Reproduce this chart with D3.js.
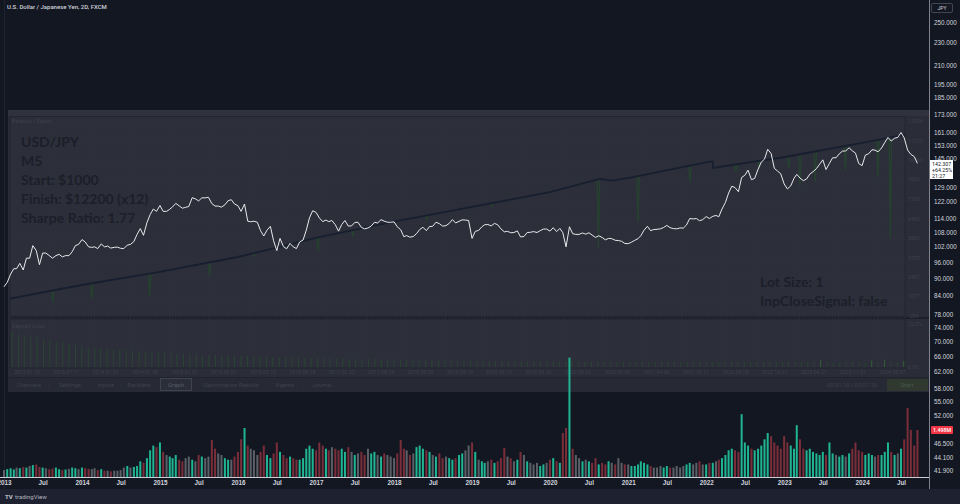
<!DOCTYPE html>
<html>
<head>
<meta charset="utf-8">
<script src="https://cdn.jsdelivr.net/npm/d3@7"></script>
<style>
  html, body { margin: 0; padding: 0; background: #131722; overflow: hidden; }
  svg { display: block; font-family: Roboto, "Noto Sans", sans-serif; }
</style>
</head>
<body>
<svg></svg>
<script>
// USD/JPY, value at the 1st and 16th of each month
const price2013 = [87.0, 88.5, 91.5, 93.5, 93.5, 95.5, 93.0, 97.5, 97.5, 102.5, 100.5, 95.0, 99.5, 99.5, 98.5, 97.5, 98.5, 99.0, 98.0, 98.5, 98.5, 100.0, 102.5, 103.0];
const price2014 = [105.0, 104.0, 102.0, 101.8, 102.0, 101.3, 103.2, 102.0, 102.3, 101.5, 101.8, 101.9, 101.4, 101.3, 102.7, 103.0, 104.2, 107.2, 109.7, 106.8, 112.3, 116.0, 118.6, 117.5];
const price2015 = [120.3, 117.5, 117.5, 118.5, 119.6, 121.3, 120.1, 119.0, 119.4, 119.8, 124.1, 123.5, 122.5, 124.0, 124.0, 124.3, 121.2, 120.0, 120.0, 119.5, 120.6, 122.6, 123.1, 121.0];
const price2016 = [120.2, 117.5, 121.0, 113.0, 112.7, 113.0, 112.5, 108.8, 106.5, 109.0, 110.7, 104.5, 100.5, 105.5, 102.1, 101.2, 103.4, 102.0, 101.3, 104.0, 104.8, 109.0, 114.5, 117.8];
const price2017 = [117.0, 114.5, 112.8, 113.5, 112.8, 113.3, 111.4, 108.6, 111.5, 113.3, 110.8, 110.9, 112.4, 112.5, 110.2, 109.6, 110.0, 110.8, 112.5, 112.2, 113.7, 113.0, 112.5, 112.5];
const price2018 = [112.7, 110.5, 109.2, 106.2, 106.7, 106.0, 106.3, 107.5, 109.3, 110.3, 108.8, 110.6, 110.7, 112.5, 111.9, 110.8, 111.0, 112.0, 113.7, 112.2, 112.9, 113.6, 113.5, 113.3];
const price2019 = [105.5, 108.5, 108.9, 110.5, 111.4, 111.5, 110.9, 112.0, 111.4, 109.6, 108.3, 108.5, 107.9, 108.0, 108.7, 106.1, 106.3, 108.0, 108.1, 108.4, 108.0, 108.8, 109.5, 109.5];
const price2020 = [108.6, 110.1, 108.4, 109.8, 107.9, 102.0, 110.5, 107.5, 107.2, 107.2, 107.8, 107.3, 107.9, 106.9, 105.9, 106.6, 105.9, 104.9, 105.5, 105.4, 104.7, 104.6, 104.3, 103.4];
const price2021 = [103.3, 103.9, 104.7, 105.4, 106.6, 109.0, 110.7, 108.8, 109.3, 109.4, 109.6, 110.2, 111.1, 110.1, 109.7, 109.6, 110.0, 109.9, 111.3, 114.2, 114.0, 114.2, 113.2, 113.7];
const price2022 = [115.1, 114.2, 115.2, 115.6, 115.0, 118.6, 121.7, 126.4, 129.9, 129.2, 127.1, 134.5, 135.7, 138.5, 133.3, 134.0, 139.0, 143.0, 144.7, 150.5, 148.0, 139.5, 138.0, 136.5];
const price2023 = [131.1, 128.5, 130.1, 134.0, 136.2, 134.2, 132.8, 133.7, 136.3, 137.6, 139.3, 141.8, 144.3, 138.8, 142.3, 145.5, 145.5, 147.8, 149.4, 149.5, 151.4, 149.6, 148.2, 142.2];
const price2024 = [141.0, 147.0, 147.9, 150.2, 150.0, 149.0, 151.3, 154.6, 157.8, 155.5, 157.3, 157.8, 160.9, 157.5, 150.0, 147.5, 146.2, 142.3];

// volume, millions, same dates
const vol2013 = [0.22, 0.25, 0.28, 0.24, 0.3, 0.28, 0.32, 0.3, 0.35, 0.38, 0.4, 0.32, 0.3, 0.28, 0.25, 0.27, 0.3, 0.25, 0.22, 0.24, 0.26, 0.3, 0.28, 0.25];
const vol2014 = [0.3, 0.28, 0.26, 0.25, 0.28, 0.22, 0.25, 0.2, 0.2, 0.18, 0.2, 0.2, 0.22, 0.3, 0.35, 0.3, 0.32, 0.35, 0.5, 0.45, 0.6, 0.85, 1.0, 0.95];
const vol2015 = [1.1, 0.8, 0.7, 0.65, 0.6, 0.7, 0.55, 0.5, 0.6, 0.65, 0.55, 0.5, 0.7, 0.65, 0.6, 0.65, 1.18, 0.9, 0.75, 0.7, 0.6, 0.55, 0.55, 0.65];
const vol2016 = [0.8, 1.2, 1.56, 1.0, 0.9, 0.85, 0.7, 0.8, 1.0, 0.7, 0.6, 0.75, 1.1, 0.8, 0.7, 0.6, 0.65, 0.6, 0.55, 0.55, 0.6, 0.9, 1.0, 0.9];
const vol2017 = [0.85, 1.1, 1.0, 0.9, 0.85, 0.95, 0.9, 0.85, 0.9, 0.8, 0.95, 0.8, 0.7, 0.75, 0.8, 0.7, 0.9, 0.75, 0.8, 0.7, 0.65, 0.75, 0.7, 0.65];
const vol2018 = [0.6, 0.75, 1.18, 0.9, 0.85, 0.7, 0.75, 0.95, 1.0, 0.9, 0.85, 0.8, 0.7, 0.65, 0.75, 0.6, 0.65, 0.6, 0.55, 0.6, 0.7, 0.75, 0.85, 1.0];
const vol2019 = [1.1, 0.8, 0.55, 0.5, 0.45, 0.5, 0.55, 0.45, 0.5, 0.6, 0.92, 0.65, 0.6, 0.5, 0.55, 0.8, 0.7, 0.5, 0.45, 0.4, 0.45, 0.35, 0.4, 0.45];
const vol2020 = [0.55, 0.6, 0.5, 0.45, 1.4, 1.56, 3.8, 0.9, 0.7, 0.6, 0.5, 0.55, 0.5, 0.45, 0.6, 0.4, 0.45, 0.4, 0.5, 0.45, 0.4, 0.6, 0.45, 0.4];
const vol2021 = [0.4, 0.35, 0.35, 0.4, 0.5, 0.45, 0.4, 0.35, 0.3, 0.3, 0.35, 0.3, 0.35, 0.3, 0.3, 0.35, 0.3, 0.35, 0.4, 0.45, 0.4, 0.45, 0.5, 0.4];
const vol2022 = [0.4, 0.45, 0.45, 0.5, 0.55, 0.6, 0.7, 0.85, 0.9, 0.85, 0.8, 2.0, 1.1, 1.0, 0.9, 0.85, 0.9, 1.0, 1.2, 1.4, 1.3, 1.1, 1.0, 0.9];
const vol2023 = [1.3, 1.1, 1.0, 0.9, 1.65, 1.2, 0.9, 0.85, 0.9, 0.8, 0.75, 0.7, 0.8, 0.7, 1.1, 0.75, 0.7, 0.65, 0.7, 0.65, 0.75, 0.9, 1.1, 0.85];
const vol2024 = [0.8, 0.7, 0.75, 0.7, 0.65, 0.7, 0.7, 0.8, 1.1, 0.8, 0.7, 0.75, 0.9, 1.2, 2.2, 1.5, 1.0, 1.498];

// strategy tester: balance points and equity dips
const balanceDates = ['2013-01-01', '2013-12-10', '2014-12-17', '2015-12-25', '2016-07-13', '2017-01-01', '2018-01-04', '2019-01-18', '2020-01-30', '2020-09-19', '2020-11-17', '2021-02-06', '2022-02-20', '2022-03-12', '2022-03-14', '2023-02-21', '2024-02-24', '2024-09-16'];
const balanceValues = [1000, 1930, 2818, 3841, 4524, 5138, 6230, 7254, 8278, 9165, 9050, 9233, 10326, 10360, 9916, 10666, 11622, 12200];
const dipDates = ['2013-07-24', '2014-01-27', '2014-10-30', '2015-08-13', '2016-03-10', '2017-01-12', '2017-06-27', '2018-06-15', '2019-04-20', '2020-09-12', '2021-03-21', '2021-11-24', '2022-07-01', '2022-10-20', '2023-03-10', '2023-05-03', '2023-07-15', '2023-12-06', '2024-05-10', '2024-07-08'];
const dipValues = [770, 1040, 1180, 2540, 3900, 4320, 5270, 6400, 7300, 4520, 6230, 8890, 9700, 9850, 9900, 8690, 8960, 9780, 9300, 5140];

// deposit load %, monthly
const load2013 = [17.2, 15.8, 15.3, 14.8, 14.3, 13.5, 13.0, 12.4, 11.8, 11.0, 10.5, 10.0];
const load2014 = [9.6, 9.3, 9.0, 8.8, 8.5, 8.3, 8.0, 7.8, 7.6, 7.4, 7.2, 7.0];
const load2015 = [6.8, 6.6, 6.5, 6.4, 6.3, 6.2, 6.0, 5.9, 5.8, 5.7, 5.6, 5.5];
const load2016 = [5.4, 5.3, 5.2, 5.1, 5.0, 4.9, 4.8, 4.7, 4.6, 4.5, 4.4, 4.3];
const load2017 = [4.3, 4.2, 4.2, 4.1, 4.1, 4.0, 4.0, 3.9, 3.9, 3.8, 3.8, 3.7];
const load2018 = [3.7, 3.6, 3.6, 3.5, 3.5, 3.4, 3.4, 3.3, 3.3, 3.2, 3.2, 3.1];
const load2019 = [3.1, 3.0, 3.0, 3.0, 2.9, 2.9, 2.9, 2.8, 2.8, 2.8, 2.7, 2.7];
const load2020 = [2.7, 2.6, 2.6, 2.6, 2.6, 2.5, 2.5, 2.5, 2.5, 2.5, 2.4, 2.4];
const load2021 = [2.4, 2.4, 2.4, 2.4, 2.3, 2.3, 2.3, 2.3, 2.3, 2.3, 2.3, 2.3];
const load2022 = [2.3, 2.2, 2.2, 2.2, 2.2, 2.2, 2.2, 2.2, 2.2, 2.2, 2.2, 2.2];
const load2023 = [2.2, 2.2, 2.1, 2.1, 2.1, 2.1, 2.1, 3.3, 2.1, 2.1, 2.1, 2.1];
const load2024 = [2.1, 2.1, 2.1, 3.2, 2.0, 3.5, 2.0, 2.0, 3.0];

// tick labels
const timeTicks = ['2013-01-01', '2013-07-01', '2014-01-01', '2014-07-01', '2015-01-01', '2015-07-01', '2016-01-01', '2016-07-01', '2017-01-01', '2017-07-01', '2018-01-01', '2018-07-01', '2019-01-01', '2019-07-01', '2020-01-01', '2020-07-01', '2021-01-01', '2021-07-01', '2022-01-01', '2022-07-01', '2023-01-01', '2023-07-01', '2024-01-01', '2024-07-01'];
const priceTicks = [250, 230, 210, 195, 185, 173, 161, 153, 145, 129, 122, 114, 108, 102, 96, 90, 84, 78, 74, 70, 66, 62, 58, 55, 52, 46.5, 44.1, 41.9];
const balanceTicks = [-254, 1077, 2407, 3738, 5069, 6400, 7730, 9062, 10393, 11723, 13054];
const testerDates = ['2013.01.10', '2013.07.17', '2014.01.21', '2014.07.28', '2015.02.02', '2015.08.07', '2016.02.12', '2016.08.18', '2017.02.22', '2017.08.29', '2018.03.05', '2018.09.10', '2019.03.15', '2019.09.20', '2020.03.26', '2020.09.30', '2021.04.06', '2021.10.11', '2022.04.18', '2022.10.21', '2023.04.27', '2023.11.01', '2024.05.07'];
const tabs = ['Overview', 'Settings', 'Inputs', 'Backtest', 'Graph', 'Optimization Results', 'Agents', 'Journal'];
const infoLeft = ['USD/JPY', 'M5', 'Start: $1000', 'Finish: $12200 (x12)', 'Sharpe Ratio: 1.77'];
const infoRight = ['Lot Size: 1', 'InpCloseSignal: false'];

const W = 960, H = 504;
const svg = d3.select('svg').attr('width', W).attr('height', H);
const parse = d3.timeParse('%Y-%m-%d');
const parseDot = d3.timeParse('%Y.%m.%d');

const prices = [].concat(price2013, price2014, price2015, price2016, price2017, price2018, price2019, price2020, price2021, price2022, price2023, price2024);
const volumes = [].concat(vol2013, vol2014, vol2015, vol2016, vol2017, vol2018, vol2019, vol2020, vol2021, vol2022, vol2023, vol2024);
const loads = [].concat(load2013, load2014, load2015, load2016, load2017, load2018, load2019, load2020, load2021, load2022, load2023, load2024);
const bars = prices.map((p, i) => ({
  date: new Date(2013, Math.floor(i / 2), i % 2 ? 16 : 1),
  price: p,
  vol: volumes[i],
  prev: i ? prices[i - 1] : p
}));

// scales
const x = d3.scaleTime().domain([new Date(2013, 0, 1), new Date(2024, 6, 1)]).range([4, 901]);
const y = d3.scaleLog().domain([41.9, 250]).range([470, 22]);
const vy = d3.scaleLinear().domain([0, 3.82]).range([477, 357]);
const mx = d3.scaleTime().domain([new Date(2013, 0, 1), new Date(2024, 8, 16)]).range([10, 905]);
const by = d3.scaleLinear().domain([-254, 13054]).range([317, 122]);
const ly = d3.scaleLinear().domain([0, 22]).range([367, 321]);

// background
svg.append('rect').attr('width', W).attr('height', H).attr('fill', '#131722');
svg.append('rect').attr('x', 0).attr('y', 489).attr('width', W).attr('height', 15).attr('fill', '#1d2130');
svg.append('line').attr('x1', 4.5).attr('x2', 4.5).attr('y1', 0).attr('y2', 489).attr('stroke', '#1f2330');

// ---- strategy tester screenshot ----
const mt = svg.append('g');
mt.append('rect').attr('x', 8).attr('y', 110).attr('width', 921).attr('height', 282).attr('fill', '#2a2c38');
mt.append('rect').attr('x', 8).attr('y', 110).attr('width', 921).attr('height', 6).attr('fill', '#30323e');
mt.append('rect').attr('x', 10).attr('y', 116.5).attr('width', 895).attr('height', 200)
  .attr('fill', '#2c2e3a').attr('stroke', '#23252e');
mt.append('line').attr('x1', 10).attr('x2', 929).attr('y1', 318).attr('y2', 318).attr('stroke', '#1e2029').attr('stroke-width', 2);
mt.append('rect').attr('x', 10).attr('y', 319).attr('width', 895).attr('height', 49)
  .attr('fill', '#2c2e3a').attr('stroke', '#23252e');
mt.append('rect').attr('x', 8).attr('y', 377).attr('width', 921).attr('height', 15).attr('fill', '#272935');
mt.append('line').attr('x1', 8).attr('x2', 929).attr('y1', 377.5).attr('y2', 377.5).attr('stroke', '#21232c');

// grid
mt.selectAll('.hg').data(balanceTicks).enter().append('line')
  .attr('x1', 10).attr('x2', 905).attr('y1', (d) => by(d) + 0.5).attr('y2', (d) => by(d) + 0.5)
  .attr('stroke', '#30323f').attr('stroke-dasharray', '1,2');
mt.selectAll('.vg').data(testerDates).enter().append('line')
  .attr('x1', (d) => mx(parseDot(d)) + 0.5).attr('x2', (d) => mx(parseDot(d)) + 0.5)
  .attr('y1', 117).attr('y2', 368)
  .attr('stroke', '#30323f').attr('stroke-dasharray', '1,2');

// balance & equity
const balance = balanceDates.map((d, i) => ({ date: parse(d), v: balanceValues[i] }));
const balAt = (t) => {
  const i = d3.bisector((d) => d.date).right(balance, t);
  const a = balance[Math.max(0, i - 1)], b = balance[Math.min(balance.length - 1, i)];
  if (a === b) return a.v;
  return a.v + (b.v - a.v) * (t - a.date) / (b.date - a.date);
};
const day = 864e5;
let equity = balance.slice();
dipDates.forEach((d, i) => {
  const t = parse(d);
  equity.push({ date: new Date(+t - 6 * day), v: balAt(new Date(+t - 6 * day)) });
  equity.push({ date: t, v: dipValues[i] });
  equity.push({ date: new Date(+t + 6 * day), v: balAt(new Date(+t + 6 * day)) });
});
equity.sort((a, b) => a.date - b.date);
const mline = d3.line().x((d) => mx(d.date)).y((d) => by(d.v));
mt.append('path').attr('d', mline(equity)).attr('fill', 'none').attr('stroke', '#26412f').attr('stroke-width', 1.4);
mt.append('path').attr('d', mline(balance)).attr('fill', 'none').attr('stroke', '#181d30').attr('stroke-width', 1.8);

// deposit load bars
mt.selectAll('.ld').data(loads).enter().append('line')
  .attr('x1', (d, i) => mx(new Date(2013, i, 10)))
  .attr('x2', (d, i) => mx(new Date(2013, i, 10)))
  .attr('y1', ly(0)).attr('y2', (d) => ly(d))
  .attr('stroke', (d, i) => (i > 125 && d > 2.5 ? '#35603b' : '#2a4532')).attr('stroke-width', 1);

// tester labels
const faint = '#3e414d';
mt.append('text').attr('x', 12).attr('y', 123).attr('font-size', 5.5).attr('fill', faint).text('Balance / Equity');
mt.append('text').attr('x', 12).attr('y', 328).attr('font-size', 5.5).attr('fill', faint).text('Deposit Load');
mt.selectAll('.bt').data(balanceTicks).enter().append('text')
  .attr('x', 908).attr('y', (d) => by(d) + 1).attr('font-size', 5.2).attr('fill', faint)
  .text((d) => d);
mt.append('text').attr('x', 908).attr('y', 326).attr('font-size', 5.2).attr('fill', faint).text('22.0%');
mt.append('text').attr('x', 908).attr('y', 369).attr('font-size', 5.2).attr('fill', faint).text('0.0%');
mt.selectAll('.dt').data(testerDates).enter().append('text')
  .attr('x', (d) => mx(parseDot(d)) + 2).attr('y', 374).attr('font-size', 5.2).attr('fill', faint)
  .text((d) => d);

// tabs
const tabX = [15, 55, 96, 125, 166, 198, 272, 308];
const tabW = [28, 30, 20, 28, 20, 66, 26, 28];
mt.append('rect').attr('x', 160.5).attr('y', 378.5).attr('width', 31).attr('height', 12)
  .attr('fill', '#2b2d39').attr('stroke', '#3f4250');
tabs.forEach((t, i) => {
  mt.append('text').attr('x', tabX[i] + tabW[i] / 2).attr('y', 387).attr('text-anchor', 'middle')
    .attr('font-size', 6).attr('fill', i === 4 ? '#565a68' : faint).text(t);
  if (i < tabs.length - 1 && i !== 3 && i !== 4) {
    mt.append('text').attr('x', tabX[i] + tabW[i] + 5).attr('y', 387).attr('font-size', 6).attr('fill', '#363945').text('|');
  }
});
mt.append('text').attr('x', 852).attr('y', 387).attr('text-anchor', 'middle').attr('font-size', 5.8).attr('fill', faint).text('00:01:10 / 00:01:10');
mt.append('rect').attr('x', 887).attr('y', 379).attr('width', 41).attr('height', 12).attr('fill', '#2f392f');
mt.append('text').attr('x', 907).attr('y', 387).attr('text-anchor', 'middle').attr('font-size', 6).attr('fill', '#4a5848').text('Start');

// annotation texts
mt.selectAll('.il').data(infoLeft).enter().append('text')
  .attr('x', 21).attr('y', (d, i) => 147 + i * 19)
  .attr('font-family', 'Lato, "Open Sans", sans-serif').attr('font-weight', 700)
  .attr('font-size', 14).attr('fill', '#1c1e29').text((d) => d);
mt.selectAll('.ir').data(infoRight).enter().append('text')
  .attr('x', 760).attr('y', (d, i) => 287 + i * 19)
  .attr('font-family', 'Lato, "Open Sans", sans-serif').attr('font-weight', 700)
  .attr('font-size', 14).attr('fill', '#1c1e29').text((d) => d);

// ---- TradingView layer ----
const upCol = '#1fb592', downCol = '#7a2e3a', flatCol = '#5b6066';
svg.append('g').selectAll('rect').data(bars).enter().append('rect')
  .attr('x', (d) => x(d.date) - 1)
  .attr('width', 2)
  .attr('y', (d) => vy(d.vol))
  .attr('height', (d) => vy(0) - vy(d.vol))
  .attr('fill', (d) => {
    const ch = (d.price - d.prev) / d.prev;
    if (Math.abs(ch) < 0.005) return flatCol;
    return ch > 0 ? upCol : downCol;
  });

const line = d3.line().x((d) => x(d.date)).y((d) => y(d.price));
svg.append('path').attr('d', line(bars)).attr('fill', 'none').attr('stroke', '#e9e9ec').attr('stroke-width', 1);

// axes
svg.append('line').attr('x1', 0).attr('x2', 929).attr('y1', 477.5).attr('y2', 477.5).attr('stroke', '#c9ccd4');
svg.append('line').attr('x1', 929.5).attr('x2', 929.5).attr('y1', 0).attr('y2', 489).attr('stroke', '#80838e');

const xAxis = d3.axisBottom(x)
  .tickValues(timeTicks.map(parse))
  .tickSize(0).tickPadding(3)
  .tickFormat((d) => (d.getMonth() === 0 ? d.getFullYear() : 'Jul'));
const gx = svg.append('g').attr('transform', 'translate(0,478)').call(xAxis);
gx.select('.domain').remove();
gx.selectAll('text').attr('font-size', 6.3).attr('font-weight', 700).attr('fill', '#d1d4dc');

const yAxis = d3.axisRight(y).tickValues(priceTicks).tickSize(0).tickPadding(4).tickFormat(d3.format('.3f'));
const gy = svg.append('g').attr('transform', 'translate(930,0)').call(yAxis);
gy.select('.domain').remove();
gy.selectAll('text').attr('font-size', 6.3).attr('font-weight', 500).attr('fill', '#d1d4dc');

// header & badges
svg.append('text').attr('x', 7).attr('y', 9).attr('font-size', 6).attr('font-weight', 500).attr('fill', '#d1d4dc')
  .text('U.S. Dollar / Japanese Yen, 2D, FXCM');
svg.append('rect').attr('x', 931.5).attr('y', 3.5).attr('width', 21).attr('height', 9).attr('rx', 1.5)
  .attr('fill', '#131722').attr('stroke', '#434651');
svg.append('text').attr('x', 942).attr('y', 10).attr('text-anchor', 'middle').attr('font-size', 5).attr('fill', '#d1d4dc').text('JPY');

const last = bars[bars.length - 1];
svg.append('rect').attr('x', 930).attr('y', 160).attr('width', 23).attr('height', 19).attr('fill', '#ffffff');
svg.append('text').attr('x', 932).attr('y', 165.5).attr('font-size', 5.3).attr('fill', '#131722').text(d3.format('.3f')(142.307));
svg.append('text').attr('x', 932).attr('y', 171.5).attr('font-size', 5.3).attr('fill', '#131722').text('+64.25%');
svg.append('text').attr('x', 932).attr('y', 177.5).attr('font-size', 5.3).attr('fill', '#131722').text('21:27');

svg.append('rect').attr('x', 931).attr('y', vy(last.vol) - 4).attr('width', 22).attr('height', 8).attr('rx', 1).attr('fill', '#f23645');
svg.append('text').attr('x', 942).attr('y', vy(last.vol) + 2).attr('text-anchor', 'middle').attr('font-size', 5.3)
  .attr('font-weight', 500).attr('fill', '#ffffff').text(d3.format('.3f')(last.vol) + 'M');

// footer logo
svg.append('text').attr('x', 5).attr('y', 499).attr('font-size', 6).attr('font-weight', 900).attr('fill', '#b2b5be').text('TV');
svg.append('text').attr('x', 15).attr('y', 499).attr('font-size', 6).attr('fill', '#b2b5be').text('tradingView');
</script>
</body>
</html>
